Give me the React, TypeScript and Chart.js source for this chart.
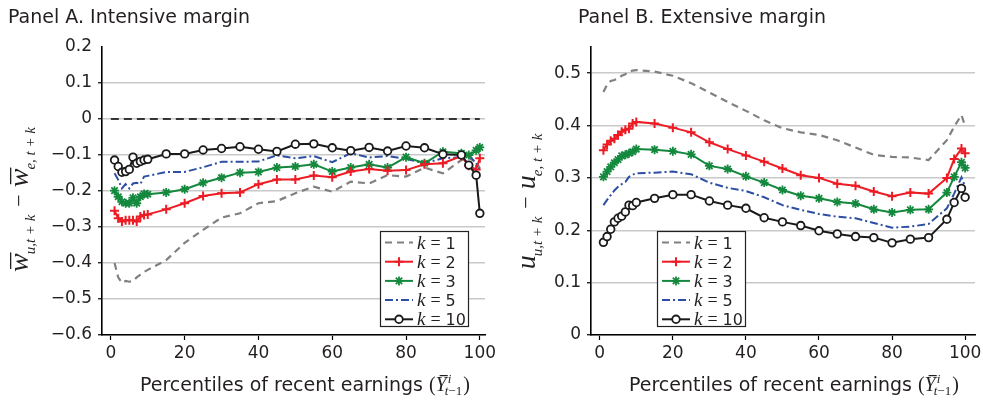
import React, { useEffect, useRef } from 'react';
import { Chart, registerables } from 'chart.js';

Chart.register(...registerables);

// ---------------- DATA ----------------
const percentiles = [1, 2, 3, 4, 5, 6, 7, 8, 9, 10, 15, 20, 25, 30, 35, 40, 45, 50, 55, 60, 65, 70, 75, 80, 85, 90, 95, 97, 99, 100];
const xTicks = [0, 20, 40, 60, 80, 100];
const yTicksA = [-0.6, -0.5, -0.4, -0.3, -0.2, -0.1, 0, 0.1, 0.2];
const yTicksB = [0, 0.1, 0.2, 0.3, 0.4, 0.5];
const legendLabels = ['1', '2', '3', '5', '10'];
const zeroLineX = [0, 100];
const zeroLineY = [0, 0];

// Panel A: intensive margin
const intK1 = [-0.40, -0.44, -0.455, -0.45, -0.452, -0.45, -0.44, -0.432, -0.425, -0.419, -0.392, -0.344, -0.308, -0.274, -0.262, -0.234, -0.228, -0.206, -0.188, -0.202, -0.174, -0.179, -0.156, -0.160, -0.135, -0.151, -0.114, -0.108, -0.12, -0.137];
const intK2 = [-0.255, -0.276, -0.285, -0.281, -0.281, -0.281, -0.285, -0.271, -0.267, -0.265, -0.251, -0.234, -0.214, -0.206, -0.204, -0.181, -0.168, -0.168, -0.157, -0.162, -0.146, -0.139, -0.144, -0.142, -0.126, -0.123, -0.103, -0.13, -0.14, -0.109];
const intK3 = [-0.199, -0.216, -0.230, -0.234, -0.234, -0.219, -0.234, -0.216, -0.208, -0.209, -0.204, -0.195, -0.177, -0.163, -0.149, -0.147, -0.135, -0.132, -0.126, -0.146, -0.135, -0.126, -0.135, -0.106, -0.123, -0.091, -0.095, -0.10, -0.087, -0.079];
const intK5 = [-0.151, -0.169, -0.193, -0.181, -0.193, -0.179, -0.177, -0.181, -0.160, -0.158, -0.147, -0.147, -0.134, -0.119, -0.119, -0.118, -0.101, -0.109, -0.103, -0.120, -0.095, -0.107, -0.103, -0.111, -0.123, -0.109, -0.106, -0.10, -0.123, -0.142];
const intK10 = [-0.114, -0.132, -0.148, -0.146, -0.140, -0.106, -0.123, -0.118, -0.114, -0.112, -0.097, -0.097, -0.086, -0.082, -0.077, -0.084, -0.090, -0.070, -0.069, -0.080, -0.088, -0.079, -0.089, -0.075, -0.080, -0.098, -0.100, -0.128, -0.156, -0.262];

// Panel B: extensive margin
const extK1 = [0.464, 0.478, 0.485, 0.487, 0.49, 0.495, 0.498, 0.503, 0.505, 0.506, 0.503, 0.495, 0.481, 0.463, 0.445, 0.428, 0.41, 0.395, 0.387, 0.382, 0.372, 0.358, 0.344, 0.340, 0.339, 0.334, 0.372, 0.398, 0.420, 0.399];
const extK2 = [0.353, 0.364, 0.371, 0.375, 0.382, 0.388, 0.392, 0.394, 0.404, 0.407, 0.404, 0.396, 0.387, 0.368, 0.355, 0.343, 0.331, 0.318, 0.305, 0.300, 0.289, 0.285, 0.274, 0.265, 0.272, 0.270, 0.300, 0.336, 0.356, 0.347];
const extK3 = [0.302, 0.312, 0.321, 0.329, 0.335, 0.342, 0.344, 0.347, 0.350, 0.355, 0.354, 0.351, 0.345, 0.323, 0.317, 0.303, 0.291, 0.277, 0.266, 0.261, 0.254, 0.251, 0.240, 0.234, 0.239, 0.240, 0.272, 0.302, 0.330, 0.319];
const extK5 = [0.248, 0.258, 0.267, 0.276, 0.283, 0.288, 0.292, 0.302, 0.306, 0.309, 0.310, 0.312, 0.307, 0.291, 0.281, 0.275, 0.263, 0.248, 0.239, 0.231, 0.226, 0.223, 0.214, 0.205, 0.207, 0.212, 0.242, 0.270, 0.301, 0.283];
const extK10 = [0.177, 0.188, 0.202, 0.216, 0.223, 0.227, 0.235, 0.248, 0.247, 0.253, 0.261, 0.268, 0.268, 0.256, 0.248, 0.242, 0.224, 0.216, 0.209, 0.199, 0.193, 0.188, 0.186, 0.176, 0.183, 0.186, 0.221, 0.253, 0.280, 0.263];

// ---------------- STYLES ----------------
const SANS = '"DejaVu Sans", "Liberation Sans", sans-serif';
const SERIF = '"Liberation Serif", "DejaVu Serif", serif';
const TEXT = '#231f20';
const GRID = '#c9c9c9';

type SeriesStyle = {
  color: string;
  width: number;
  dash: number[];
  marker: 'none' | 'cross' | 'star' | 'circle';
  radius: number;
  mWidth: number;
};

const seriesStyles: SeriesStyle[] = [
  { color: '#808080', width: 2.2, dash: [7, 5], marker: 'none', radius: 0, mWidth: 0 },
  { color: '#ed1c24', width: 2, dash: [], marker: 'cross', radius: 4.5, mWidth: 2 },
  { color: '#14893e', width: 2, dash: [], marker: 'star', radius: 4.5, mWidth: 1.8 },
  { color: '#2c4fa3', width: 2, dash: [8, 3, 2, 3], marker: 'none', radius: 0, mWidth: 0 },
  { color: '#1a1a1a', width: 2, dash: [], marker: 'circle', radius: 3.8, mWidth: 1.8 },
];

function fmtTick(v: number): string {
  if (Math.abs(v) < 1e-9) return '0';
  const s = (Math.round(v * 10) / 10).toString();
  return s.replace('-', '\u2212');
}

function drawMarker(ctx: CanvasRenderingContext2D, st: SeriesStyle, x: number, y: number) {
  if (st.marker === 'none') return;
  ctx.save();
  ctx.setLineDash([]);
  ctx.strokeStyle = st.color;
  ctx.lineWidth = st.mWidth;
  const r = st.radius;
  ctx.beginPath();
  if (st.marker === 'cross' || st.marker === 'star') {
    ctx.moveTo(x - r, y); ctx.lineTo(x + r, y);
    ctx.moveTo(x, y - r); ctx.lineTo(x, y + r);
  }
  if (st.marker === 'star') {
    const d = r * 0.7071;
    ctx.moveTo(x - d, y - d); ctx.lineTo(x + d, y + d);
    ctx.moveTo(x - d, y + d); ctx.lineTo(x + d, y - d);
  }
  if (st.marker === 'circle') {
    ctx.arc(x, y, r, 0, Math.PI * 2);
    ctx.fillStyle = '#ffffff';
    ctx.fill();
  }
  ctx.stroke();
  ctx.restore();
}

type PanelCfg = {
  title: string;
  titleX: number;
  values: number[][];
  xMin: number;
  xMax: number;
  yMin: number;
  yMax: number;
  yTicks: number[];
  yAxisWidth: number;
  padRight: number;
  zeroLine: boolean;
  yLabelMain: string;
  yLabelOverline: boolean;
  yLabelSub1: string;
  yLabelSub2: string;
  yLabelX: number;
  yLabelCY: number;
  legendLeftOffset: number | null;
  legendRightOffset: number | null;
};

function drawYLabel(ctx: CanvasRenderingContext2D, cfg: PanelCfg) {
  ctx.save();
  ctx.fillStyle = TEXT;
  ctx.strokeStyle = TEXT;
  ctx.textAlign = 'left';
  ctx.textBaseline = 'alphabetic';
  ctx.translate(cfg.yLabelX, cfg.yLabelCY);
  ctx.rotate(-Math.PI / 2);
  const mainFont = `italic 28px ${SERIF}`;
  const subFont = `italic 15px ${SERIF}`;
  const opFont = `22px ${SERIF}`;
  ctx.font = mainFont;
  const wm = ctx.measureText(cfg.yLabelMain).width;
  ctx.font = subFont;
  const w1 = ctx.measureText(cfg.yLabelSub1).width;
  const w2 = ctx.measureText(cfg.yLabelSub2).width;
  ctx.font = opFont;
  const wop = ctx.measureText('\u2212').width;
  const gap = 7;
  const total = wm + w1 + gap + wop + gap + wm + w2;
  let x = -total / 2;
  const drawMain = (xx: number) => {
    ctx.font = mainFont;
    ctx.fillText(cfg.yLabelMain, xx, 0);
    if (cfg.yLabelOverline) {
      ctx.fillRect(xx + 3, -18, wm - 2, 1.3);
    }
  };
  drawMain(x);
  x += wm;
  ctx.font = subFont;
  ctx.fillText(cfg.yLabelSub1, x - 1, 7);
  x += w1 + gap;
  ctx.font = opFont;
  ctx.fillText('\u2212', x, -2);
  x += wop + gap;
  drawMain(x);
  x += wm;
  ctx.font = subFont;
  ctx.fillText(cfg.yLabelSub2, x - 1, 7);
  ctx.restore();
}

function drawXTitle(ctx: CanvasRenderingContext2D, x0: number, baseline: number) {
  ctx.save();
  ctx.fillStyle = TEXT;
  ctx.textAlign = 'left';
  ctx.textBaseline = 'alphabetic';
  ctx.font = `19px ${SANS}`;
  const t = 'Percentiles of recent earnings ';
  ctx.fillText(t, x0, baseline);
  let x = x0 + ctx.measureText(t).width;
  ctx.font = `20px ${SERIF}`;
  ctx.fillText('(', x, baseline);
  x += ctx.measureText('(').width;
  ctx.font = `italic 20px ${SERIF}`;
  ctx.fillText('Y', x, baseline);
  const wy = ctx.measureText('Y').width;
  ctx.fillRect(x + 4, baseline - 16, wy - 3, 1.2);
  const xa = x + wy;
  ctx.font = `italic 13px ${SERIF}`;
  ctx.fillText('i', xa + 1, baseline - 8);
  let sx = xa - 2;
  ctx.fillText('t', sx, baseline + 4);
  sx += ctx.measureText('t').width;
  ctx.font = `13px ${SERIF}`;
  ctx.fillText('\u22121', sx, baseline + 4);
  sx += ctx.measureText('\u22121').width;
  ctx.font = `20px ${SERIF}`;
  ctx.fillText(')', sx + 1, baseline);
  ctx.restore();
}

function drawLegend(ctx: CanvasRenderingContext2D, left: number, top: number) {
  const w = 89;
  const h = 96;
  ctx.save();
  ctx.fillStyle = '#ffffff';
  ctx.fillRect(left, top, w, h);
  ctx.strokeStyle = '#222';
  ctx.lineWidth = 1.2;
  ctx.setLineDash([]);
  ctx.strokeRect(left + 0.5, top + 0.5, w - 1, h - 1);
  ctx.textBaseline = 'alphabetic';
  ctx.textAlign = 'left';
  legendLabels.forEach((lab, i) => {
    const st = seriesStyles[i];
    const cy = top + 11.5 + i * 19.2;
    ctx.save();
    ctx.strokeStyle = st.color;
    ctx.lineWidth = st.width;
    ctx.setLineDash(st.dash);
    ctx.beginPath();
    ctx.moveTo(left + 5, cy);
    ctx.lineTo(left + 33, cy);
    ctx.stroke();
    ctx.restore();
    drawMarker(ctx, st, left + 19, cy);
    ctx.fillStyle = TEXT;
    let x = left + 37;
    const base = cy + 6;
    ctx.font = `italic 19px ${SERIF}`;
    ctx.fillText('k', x, base);
    x += ctx.measureText('k').width + 5;
    ctx.font = `18px ${SERIF}`;
    ctx.fillText('=', x, base);
    x += ctx.measureText('=').width + 5;
    ctx.font = `16px ${SANS}`;
    ctx.fillText(lab, x, base);
  });
  ctx.restore();
}

function makeConfig(cfg: PanelCfg): any {
  const datasets: any[] = [];
  const order = [4, 1, 2, 3, 0];
  cfg.values.forEach((vals, i) => {
    const st = seriesStyles[i];
    datasets.push({
      label: 'k = ' + legendLabels[i],
      data: percentiles.map((p, j) => ({ x: p, y: vals[j] })),
      borderColor: st.color,
      borderWidth: st.width,
      borderDash: st.dash,
      pointStyle: st.marker === 'none' ? 'circle' : st.marker,
      pointRadius: st.radius,
      pointBorderWidth: st.mWidth,
      pointBorderColor: st.color,
      pointBackgroundColor: st.marker === 'circle' ? '#ffffff' : st.color,
      fill: false,
      tension: 0,
      order: order[i],
    });
  });
  if (cfg.zeroLine) {
    datasets.push({
      label: 'zero',
      data: zeroLineX.map((x, j) => ({ x, y: zeroLineY[j] })),
      borderColor: '#000000',
      borderWidth: 1.5,
      borderDash: [8, 5],
      pointRadius: 0,
      fill: false,
      order: 10,
    });
  }

  const overlay = {
    id: 'overlay',
    afterDraw(chart: any) {
      const ctx: CanvasRenderingContext2D = chart.ctx;
      const ca = chart.chartArea;
      ctx.save();
      ctx.fillStyle = TEXT;
      ctx.font = `19px ${SANS}`;
      ctx.textAlign = 'left';
      ctx.textBaseline = 'alphabetic';
      ctx.fillText(cfg.title, cfg.titleX, 23);
      ctx.restore();
      drawYLabel(ctx, cfg);
      drawXTitle(ctx, ca.left + 38, 391);
      const lw = 89;
      const left = cfg.legendRightOffset !== null ? ca.right - cfg.legendRightOffset - lw : ca.left + (cfg.legendLeftOffset || 0);
      drawLegend(ctx, left, ca.bottom - 8 - 96);
    },
  };

  const isTop = (v: number) => Math.abs(v - cfg.yMax) < 1e-9;

  return {
    type: 'line',
    data: { datasets },
    options: {
      animation: false,
      responsive: false,
      maintainAspectRatio: false,
      events: [],
      layout: { padding: { left: 0, top: 47, right: cfg.padRight, bottom: 0 } },
      plugins: {
        legend: { display: false },
        tooltip: { enabled: false },
        title: { display: false },
      },
      scales: {
        x: {
          type: 'linear',
          min: cfg.xMin,
          max: cfg.xMax,
          afterBuildTicks: (s: any) => {
            s.ticks = xTicks.map((v) => ({ value: v }));
          },
          afterFit: (s: any) => {
            s.height = 73;
            s.paddingLeft = 0;
            s.paddingRight = 0;
          },
          grid: {
            drawOnChartArea: false,
            drawTicks: true,
            tickLength: 5,
            tickColor: '#000',
            tickWidth: 1.2,
          },
          border: { display: true, color: '#000', width: 1.6 },
          ticks: {
            font: { family: SANS, size: 17 },
            color: TEXT,
            padding: 3,
            maxRotation: 0,
            autoSkip: false,
            callback: (v: any) => String(v),
          },
        },
        y: {
          type: 'linear',
          min: cfg.yMin,
          max: cfg.yMax,
          afterBuildTicks: (s: any) => {
            s.ticks = cfg.yTicks.map((v) => ({ value: v }));
          },
          afterFit: (s: any) => {
            s.width = cfg.yAxisWidth;
            s.paddingTop = 0;
            s.paddingBottom = 0;
          },
          grid: {
            drawOnChartArea: true,
            drawTicks: true,
            tickLength: 4,
            color: (c: any) => (c.tick && isTop(c.tick.value) ? 'rgba(0,0,0,0)' : GRID),
            lineWidth: 1.5,
            tickColor: (c: any) => (c.tick && isTop(c.tick.value) ? 'rgba(0,0,0,0)' : '#000'),
            tickWidth: 1.2,
          },
          border: { display: true, color: '#000', width: 1.6 },
          ticks: {
            font: { family: SANS, size: 17 },
            color: TEXT,
            padding: 6,
            autoSkip: false,
            callback: (v: any) => fmtTick(Number(v)),
          },
        },
      },
    },
    plugins: [overlay],
  };
}

const panelA: PanelCfg = {
  title: 'Panel A. Intensive margin',
  titleX: 8,
  values: [intK1, intK2, intK3, intK5, intK10],
  xMin: -2.4,
  xMax: 101.4,
  yMin: -0.6,
  yMax: 0.2,
  yTicks: yTicksA,
  yAxisWidth: 102,
  padRight: 15,
  zeroLine: true,
  yLabelMain: 'w',
  yLabelOverline: true,
  yLabelSub1: 'u,t + k',
  yLabelSub2: 'e, t + k',
  yLabelX: 28,
  yLabelCY: 199,
  legendLeftOffset: null,
  legendRightOffset: 16,
};

const panelB: PanelCfg = {
  title: 'Panel B. Extensive margin',
  titleX: 88,
  values: [extK1, extK2, extK3, extK5, extK10],
  xMin: -2.4,
  xMax: 102.7,
  yMin: 0,
  yMax: 0.55,
  yTicks: yTicksB,
  yAxisWidth: 101,
  padRight: 8,
  zeroLine: false,
  yLabelMain: 'u',
  yLabelOverline: false,
  yLabelSub1: 'u,t + k',
  yLabelSub2: 'e, t + k',
  yLabelX: 45,
  yLabelCY: 201,
  legendLeftOffset: 66,
  legendRightOffset: null,
};

function Panel({ cfg, left, width }: { cfg: PanelCfg; left: number; width: number }) {
  const ref = useRef<HTMLCanvasElement | null>(null);
  useEffect(() => {
    if (!ref.current) return;
    const chart = new Chart(ref.current, makeConfig(cfg));
    return () => chart.destroy();
  }, [cfg]);
  return (
    <canvas
      ref={ref}
      width={width}
      height={408}
      style={{ position: 'absolute', left, top: 0, width, height: 408 }}
    />
  );
}

export default function App() {
  return (
    <div style={{ position: 'absolute', left: 0, top: 0, width: 983, height: 408, background: '#ffffff', overflow: 'hidden' }}>
      <Panel cfg={panelA} left={0} width={500} />
      <Panel cfg={panelB} left={490} width={493} />
    </div>
  );
}
